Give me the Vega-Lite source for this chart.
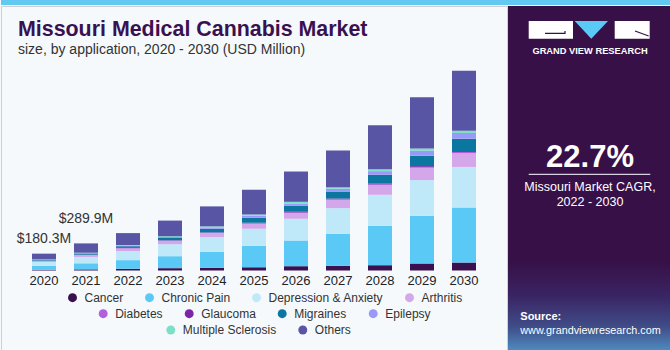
{
  "$schema": "https://vega.github.io/schema/vega-lite/v6.json",
  "padding": 0,
  "background": "#f5f9fc",
  "spacing": 0,
  "config": {"view": {"stroke": null}, "font": "Liberation Sans"},
  "datasets": {
    "market": [
      {"year": "2020", "Cancer": 8, "Chronic Pain": 41, "Depression & Anxiety": 42, "Arthritis": 13, "Diabetes": 1, "Glaucoma": 1, "Migraines": 8, "Epilepsy": 3, "Multiple Sclerosis": 2, "Others": 61.3},
      {"year": "2021", "Cancer": 12, "Chronic Pain": 65, "Depression & Anxiety": 68, "Arthritis": 20, "Diabetes": 2, "Glaucoma": 2, "Migraines": 13, "Epilepsy": 5, "Multiple Sclerosis": 3, "Others": 99.9},
      {"year": "2022", "Cancer": 18, "Chronic Pain": 93, "Depression & Anxiety": 96, "Arthritis": 29, "Diabetes": 3, "Glaucoma": 3, "Migraines": 18, "Epilepsy": 7, "Multiple Sclerosis": 5, "Others": 128},
      {"year": "2023", "Cancer": 25, "Chronic Pain": 128, "Depression & Anxiety": 128, "Arthritis": 36, "Diabetes": 3, "Glaucoma": 3, "Migraines": 25, "Epilepsy": 11, "Multiple Sclerosis": 7, "Others": 168},
      {"year": "2024", "Cancer": 29, "Chronic Pain": 171, "Depression & Anxiety": 157, "Arthritis": 43, "Diabetes": 4, "Glaucoma": 4, "Migraines": 39, "Epilepsy": 14, "Multiple Sclerosis": 11, "Others": 214},
      {"year": "2025", "Cancer": 36, "Chronic Pain": 228, "Depression & Anxiety": 182, "Arthritis": 54, "Diabetes": 5, "Glaucoma": 5, "Migraines": 54, "Epilepsy": 21, "Multiple Sclerosis": 14, "Others": 264},
      {"year": "2026", "Cancer": 46, "Chronic Pain": 275, "Depression & Anxiety": 232, "Arthritis": 61, "Diabetes": 7, "Glaucoma": 7, "Migraines": 64, "Epilepsy": 25, "Multiple Sclerosis": 18, "Others": 324},
      {"year": "2027", "Cancer": 50, "Chronic Pain": 342, "Depression & Anxiety": 275, "Arthritis": 89, "Diabetes": 7, "Glaucoma": 7, "Migraines": 75, "Epilepsy": 29, "Multiple Sclerosis": 18, "Others": 392},
      {"year": "2028", "Cancer": 57, "Chronic Pain": 421, "Depression & Anxiety": 332, "Arthritis": 103, "Diabetes": 9, "Glaucoma": 9, "Migraines": 93, "Epilepsy": 39, "Multiple Sclerosis": 21, "Others": 471},
      {"year": "2029", "Cancer": 75, "Chronic Pain": 510, "Depression & Anxiety": 382, "Arthritis": 132, "Diabetes": 9, "Glaucoma": 9, "Migraines": 110, "Epilepsy": 54, "Multiple Sclerosis": 25, "Others": 549},
      {"year": "2030", "Cancer": 85, "Chronic Pain": 588, "Depression & Anxiety": 435, "Arthritis": 146, "Diabetes": 14, "Glaucoma": 10, "Migraines": 132, "Epilepsy": 61, "Multiple Sclerosis": 25, "Others": 640}
    ],
    "cats": [
      {"category": "Cancer", "row": 1},
      {"category": "Chronic Pain", "row": 1},
      {"category": "Depression & Anxiety", "row": 1},
      {"category": "Arthritis", "row": 1},
      {"category": "Diabetes", "row": 2},
      {"category": "Glaucoma", "row": 2},
      {"category": "Migraines", "row": 2},
      {"category": "Epilepsy", "row": 2},
      {"category": "Multiple Sclerosis", "row": 3},
      {"category": "Others", "row": 3}
    ],
    "totals": [
      {"year": "2020", "total": 180.3, "label": "$180.3M"},
      {"year": "2021", "total": 289.9, "label": "$289.9M"}
    ],
    "panel": [{"panel": "gvr"}],
    "strip": [{"strip": "top"}]
  },
  "vconcat": [
    {
      "width": 670,
      "height": 5,
      "data": {"name": "strip"},
      "mark": {"type": "rect", "color": "#62c9f2"},
      "encoding": {}
    },
    {
      "spacing": 0,
      "hconcat": [
        {
          "width": 506,
          "height": 345,
          "view": {"stroke": "#d0d0d0", "strokeWidth": 1},
          "title": {
            "text": "Missouri Medical Cannabis Market",
            "subtitle": "size, by application, 2020 - 2030 (USD Million)",
            "anchor": "start",
            "frame": "group",
            "orient": "top",
            "offset": -51,
            "dx": 17,
            "font": "Liberation Sans",
            "fontSize": 21.4,
            "fontWeight": "bold",
            "color": "#3a1150",
            "subtitleFont": "Liberation Sans",
            "subtitleFontSize": 14,
            "subtitleColor": "#333333",
            "subtitlePadding": 3
          },
          "resolve": {"scale": {"color": "independent"}},
          "layer": [
            {
              "data": {"name": "market"},
              "transform": [
                {"fold": ["Cancer", "Chronic Pain", "Depression & Anxiety", "Arthritis", "Diabetes", "Glaucoma", "Migraines", "Epilepsy", "Multiple Sclerosis", "Others"], "as": ["category", "value"]},
                {"window": [{"op": "row_number", "as": "rank"}], "groupby": ["year"]}
              ],
              "mark": {"type": "bar"},
              "encoding": {
                "x": {
                  "field": "year", "type": "ordinal",
                  "scale": {"paddingInner": 0.4286, "paddingOuter": 0.738},
                  "axis": {"title": null, "domain": false, "ticks": false, "tickSize": 0, "labelPadding": 4, "labelFontSize": 13, "labelColor": "#222222", "labelFont": "Liberation Sans", "labelAngle": 0, "offset": -80.5}
                },
                "y": {
                  "field": "value", "type": "quantitative", "stack": "zero",
                  "scale": {"domain": [0, 2830], "range": [264.5, 0], "nice": false},
                  "axis": null
                },
                "color": {
                  "field": "category", "type": "nominal",
                  "scale": {
                    "domain": ["Cancer", "Chronic Pain", "Depression & Anxiety", "Arthritis", "Diabetes", "Glaucoma", "Migraines", "Epilepsy", "Multiple Sclerosis", "Others"],
                    "range": ["#3a1050", "#5bc9f5", "#bfe9f9", "#d4a7eb", "#b15fdb", "#7c25a8", "#0b769f", "#9b99f8", "#7ddfc8", "#5855a5"]
                  },
                  "legend": null
                },
                "order": {"field": "rank", "type": "quantitative"}
              }
            },
            {
              "data": {"name": "totals"},
              "transform": [{"filter": {"field": "year", "equal": "2020"}}],
              "mark": {"type": "text", "baseline": "alphabetic", "dy": -10.6, "fontSize": 14, "color": "#333333", "font": "Liberation Sans"},
              "encoding": {
                "x": {"field": "year", "type": "ordinal"},
                "y": {"field": "total", "type": "quantitative", "axis": null},
                "text": {"field": "label"}
              }
            },
            {
              "data": {"name": "totals"},
              "transform": [{"filter": {"field": "year", "equal": "2021"}}],
              "mark": {"type": "text", "baseline": "alphabetic", "dy": -20.3, "fontSize": 14, "color": "#333333", "font": "Liberation Sans"},
              "encoding": {
                "x": {"field": "year", "type": "ordinal"},
                "y": {"field": "total", "type": "quantitative", "axis": null},
                "text": {"field": "label"}
              }
            },
            {
              "data": {"name": "cats"},
              "transform": [{"filter": {"field": "row", "equal": 1}}],
              "mark": {"type": "point", "filled": true, "opacity": 0},
              "encoding": {
                "color": {
                  "field": "category", "type": "nominal",
                  "scale": {"domain": ["Cancer", "Chronic Pain", "Depression & Anxiety", "Arthritis"], "range": ["#3a1050", "#5bc9f5", "#bfe9f9", "#d4a7eb"]},
                  "legend": {"orient": "none", "legendX": 65.5, "legendY": 285.7, "direction": "horizontal", "columns": 4, "title": null, "symbolType": "circle", "symbolSize": 80, "symbolStrokeWidth": 0, "labelFontSize": 12, "labelColor": "#333333", "labelFont": "Liberation Sans", "labelOffset": 6, "columnPadding": 20, "padding": 0, "labelLimit": 300, "gridAlign": "none", "symbolOpacity": 1, "encode": {"symbols": {"update": {"opacity": {"value": 1}}}}}
                }
              }
            },
            {
              "data": {"name": "cats"},
              "transform": [{"filter": {"field": "row", "equal": 2}}],
              "mark": {"type": "point", "filled": true, "opacity": 0},
              "encoding": {
                "color": {
                  "field": "category", "type": "nominal",
                  "scale": {"domain": ["Diabetes", "Glaucoma", "Migraines", "Epilepsy"], "range": ["#b15fdb", "#7c25a8", "#0b769f", "#9b99f8"]},
                  "legend": {"orient": "none", "legendX": 96.2, "legendY": 301.7, "direction": "horizontal", "columns": 4, "title": null, "symbolType": "circle", "symbolSize": 80, "symbolStrokeWidth": 0, "labelFontSize": 12, "labelColor": "#333333", "labelFont": "Liberation Sans", "labelOffset": 6, "columnPadding": 20, "padding": 0, "labelLimit": 300, "gridAlign": "none", "symbolOpacity": 1, "encode": {"symbols": {"update": {"opacity": {"value": 1}}}}}
                }
              }
            },
            {
              "data": {"name": "cats"},
              "transform": [{"filter": {"field": "row", "equal": 3}}],
              "mark": {"type": "point", "filled": true, "opacity": 0},
              "encoding": {
                "color": {
                  "field": "category", "type": "nominal",
                  "scale": {"domain": ["Multiple Sclerosis", "Others"], "range": ["#7ddfc8", "#5855a5"]},
                  "legend": {"orient": "none", "legendX": 163.8, "legendY": 318, "direction": "horizontal", "columns": 2, "title": null, "symbolType": "circle", "symbolSize": 80, "symbolStrokeWidth": 0, "labelFontSize": 12, "labelColor": "#333333", "labelFont": "Liberation Sans", "labelOffset": 6, "columnPadding": 20, "padding": 0, "labelLimit": 300, "gridAlign": "none", "symbolOpacity": 1, "encode": {"symbols": {"update": {"opacity": {"value": 1}}}}}
                }
              }
            }
          ]
        },
        {
          "width": 164,
          "height": 345,
          "data": {"name": "panel"},
          "layer": [
            {
              "mark": {"type": "rect", "color": {"gradient": "linear", "x1": 0, "y1": 0, "x2": 0, "y2": 1, "stops": [{"offset": 0, "color": "#371047"}, {"offset": 0.74, "color": "#371047"}, {"offset": 0.84, "color": "#3a2463"}, {"offset": 0.93, "color": "#3f4d88"}, {"offset": 1, "color": "#4f8cc0"}]}},
              "encoding": {}
            },
            {
              "mark": {"type": "point", "shape": "M-1.0083,-0.1475H-0.27V0.1475H-1.0083Z M0.425,-0.1475H1.0083V0.1475H0.425Z", "size": 14400, "filled": true, "color": "#ffffff", "opacity": 1, "strokeWidth": 0, "xOffset": -0.8, "yOffset": -148.65},
              "encoding": {}
            },
            {
              "mark": {"type": "point", "shape": "M-0.2417,-0.1475H0.3133L0.035,0.1475Z", "size": 14400, "filled": true, "color": "#5bc9f5", "opacity": 1, "strokeWidth": 0, "xOffset": -0.8, "yOffset": -148.65},
              "encoding": {}
            },
            {
              "mark": {"type": "point", "shape": "M-0.7367,0.0575H-0.4033V0.0192 M0.7633,0.0192L0.9917,0.1025", "size": 14400, "filled": false, "color": "#371047", "opacity": 1, "strokeWidth": 1.2, "xOffset": -0.8, "yOffset": -148.65},
              "encoding": {}
            },
            {
              "mark": {"type": "text", "text": "GRAND VIEW RESEARCH", "font": "Liberation Sans", "fontWeight": "bold", "fontSize": 9.3, "color": "#ffffff", "baseline": "alphabetic", "yOffset": -124.8},
              "encoding": {}
            },
            {
              "mark": {"type": "text", "text": "22.7%", "font": "Liberation Sans", "fontWeight": "bold", "fontSize": 31, "color": "#ffffff", "baseline": "alphabetic", "yOffset": -11.8},
              "encoding": {}
            },
            {
              "mark": {"type": "tick", "orient": "horizontal", "size": 121.6, "thickness": 1.3, "color": "#d8d0e0", "opacity": 1, "yOffset": -4.2, "xOffset": -0.5},
              "encoding": {}
            },
            {
              "mark": {"type": "text", "text": "Missouri Market CAGR,", "font": "Liberation Sans", "fontSize": 12.5, "color": "#ffffff", "baseline": "alphabetic", "yOffset": 12.5},
              "encoding": {}
            },
            {
              "mark": {"type": "text", "text": "2022 - 2030", "font": "Liberation Sans", "fontSize": 12.5, "color": "#ffffff", "baseline": "alphabetic", "yOffset": 27},
              "encoding": {}
            },
            {
              "mark": {"type": "text", "text": "Source:", "font": "Liberation Sans", "fontWeight": "bold", "fontSize": 11, "color": "#ffffff", "align": "left", "baseline": "alphabetic", "xOffset": -69.7, "yOffset": 141.8},
              "encoding": {}
            },
            {
              "mark": {"type": "text", "text": "www.grandviewresearch.com", "font": "Liberation Sans", "fontSize": 10.8, "color": "#ffffff", "align": "left", "baseline": "alphabetic", "xOffset": -69.7, "yOffset": 155.8},
              "encoding": {}
            }
          ]
        }
      ]
    }
  ]
}
